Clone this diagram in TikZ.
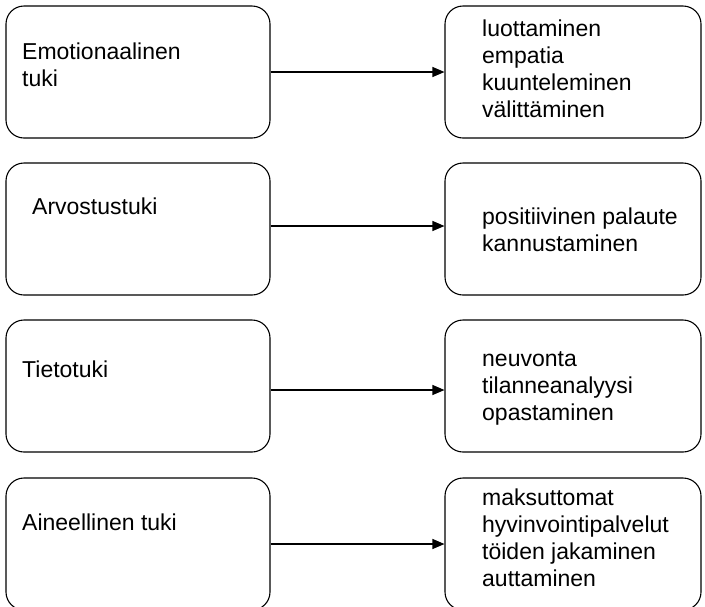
\documentclass[tikz,border=0pt]{standalone}
\usepackage{fontspec}
\setmainfont{Liberation Sans}
\usetikzlibrary{arrows.meta, positioning}

\begin{document}
\begin{tikzpicture}[
    x=1pt, y=-1pt,
    laatikko/.style={draw, rounded corners=18pt, line width=1.1pt, minimum height=132pt, inner sep=0pt},
    tuki/.style={laatikko, minimum width=264pt},
    keino/.style={laatikko, minimum width=256pt},
    teksti/.style={anchor=base west, align=left, inner sep=0pt, font=\fontsize{23}{27}\selectfont},
    nuoli/.style={-{Triangle[length=12pt, width=10pt]}, line width=1.1pt}
]

\useasboundingbox (0,0) rectangle (705,606);

% tuen muodot
\node[tuki] (emot) at (138,72) {};
\node[tuki] (arvo) at (138,229) {};
\node[tuki] (tieto) at (138,386) {};
\node[tuki] (aine) at (138,544) {};

% keinot
\node[keino] (emotK) at (573,72) {};
\node[keino] (arvoK) at (573,229) {};
\node[keino] (tietoK) at (573,386) {};
\node[keino] (aineK) at (573,544) {};

% tekstit (ankkuri = viimeisen rivin perusviiva)
\node[teksti] (emotT) at (22,86) {Emotionaalinen\\tuki};
\node[teksti] (arvoT) at (32,214) {Arvostustuki};
\node[teksti] (tietoT) at (22,377) {Tietotuki};
\node[teksti] (aineT) at (22,530) {Aineellinen tuki};

\node[teksti] (emotKT) at (482,117) {luottaminen\\empatia\\kuunteleminen\\välittäminen};
\node[teksti] (arvoKT) at (482,251) {positiivinen palaute\\kannustaminen};
\node[teksti] (tietoKT) at (482,420) {neuvonta\\tilanneanalyysi\\opastaminen};
\node[teksti] (aineKT) at (482,586) {maksuttomat\\hyvinvointipalvelut\\töiden jakaminen\\auttaminen};

% nuolet
\draw[nuoli] (emot) -- (emotK);
\draw[nuoli] ([yshift=3pt]arvo.east) -- ([yshift=3pt]arvoK.west);
\draw[nuoli] ([yshift=-4pt]tieto.east) -- ([yshift=-4pt]tietoK.west);
\draw[nuoli] (aine) -- (aineK);

\end{tikzpicture}
\end{document}
